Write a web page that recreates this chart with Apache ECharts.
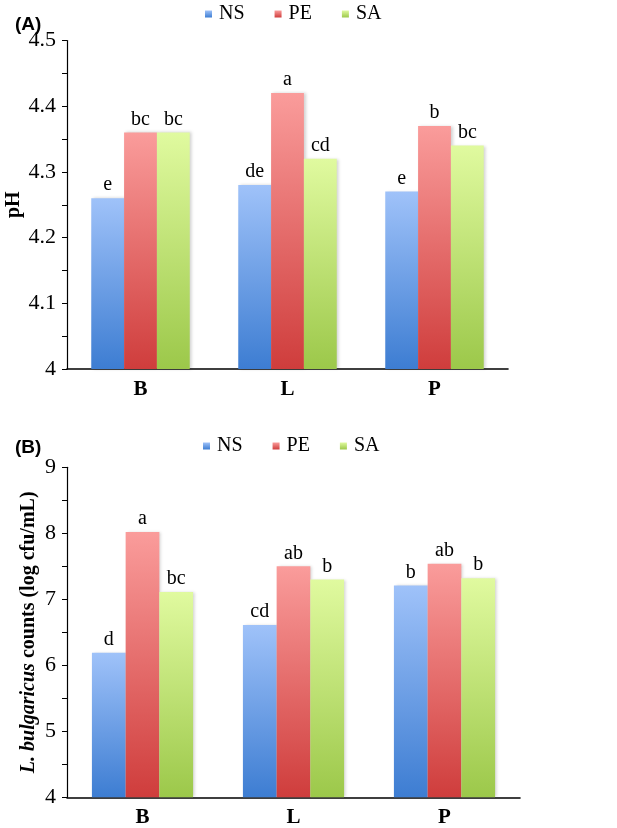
<!DOCTYPE html>
<html>
<head>
<meta charset="utf-8">
<script src="https://cdn.jsdelivr.net/npm/echarts@6/dist/echarts.min.js"></script>
<style>
html,body{margin:0;padding:0;background:#fff;}
#c{width:617px;height:828px;}
</style>
</head>
<body>
<div id="c"></div>
<script>
// Categories and series names
const categories = ['B', 'L', 'P'];
const seriesNames = ['NS', 'PE', 'SA'];

// Panel A: pH
const phNS = [4.26, 4.28, 4.27];
const phPE = [4.36, 4.42, 4.37];
const phSA = [4.36, 4.32, 4.34];
const phLetNS = ['e', 'de', 'e'];
const phLetPE = ['bc', 'a', 'b'];
const phLetSA = ['bc', 'cd', 'bc'];

// Panel B: L. bulgaricus counts (log cfu/mL)
const lbNS = [6.19, 6.61, 7.21];
const lbPE = [8.02, 7.50, 7.54];
const lbSA = [7.11, 7.30, 7.32];
const lbLetNS = ['d', 'cd', 'b'];
const lbLetPE = ['a', 'ab', 'ab'];
const lbLetSA = ['bc', 'b', 'b'];

const SERIF = '"Liberation Serif","Times New Roman",serif';

function grad(top, bottom) {
  return new echarts.graphic.LinearGradient(0, 0, 0, 1, [
    {offset: 0, color: top}, {offset: 1, color: bottom}
  ]);
}
const colors = {
  NS: ['#9fc2f9', '#3d7dd2'],
  PE: ['#fa9c9b', '#cf3d3c'],
  SA: ['#e0fa9f', '#9cc84a']
};

function mkSeries(name, data, letters, idx) {
  return {
    name: name,
    type: 'bar',
    xAxisIndex: idx, yAxisIndex: idx,
    data: data,
    barGap: '0%',
    barCategoryGap: '33%',
    itemStyle: {
      color: grad(colors[name][0], colors[name][1]),
      shadowColor: 'rgba(0,0,0,0.18)', shadowBlur: 3, shadowOffsetX: 2
    },
    label: {
      show: true, position: 'top', distance: 3,
      formatter: p => letters[p.dataIndex],
      fontFamily: SERIF, fontSize: 20, color: '#000'
    }
  };
}

function yAxisCfg(idx, min, max, interval, nameCfg) {
  return Object.assign({
    type: 'value', gridIndex: idx, min: min, max: max, interval: interval,
    splitLine: {show: false},
    nameMoveOverlap: false,
    axisLine: {show: true, lineStyle: {color: '#000', width: 1.2}},
    axisTick: {show: true, length: 5, lineStyle: {color: '#000'}},
    minorTick: {show: true, splitNumber: 2, length: 5, lineStyle: {color: '#000'}},
    minorSplitLine: {show: false},
    axisLabel: {fontFamily: SERIF, fontSize: 22, color: '#000', margin: 11, align: 'right'}
  }, nameCfg);
}

function xAxisCfg(idx) {
  return {
    type: 'category', gridIndex: idx, data: categories,
    axisLine: {lineStyle: {color: '#000', width: 1.6}},
    axisTick: {show: false},
    axisLabel: {fontFamily: SERIF, fontSize: 21, fontWeight: 'bold', color: '#000', margin: 10}
  };
}

const legendCfg = (left, top) => ({
  data: seriesNames, left: left, top: top,
  itemWidth: 7, itemHeight: 7, itemGap: 30, icon: 'rect',
  textStyle: {fontFamily: SERIF, fontSize: 20, color: '#000', padding: [0, 0, 0, 2]},
  selectedMode: false
});

const chart = echarts.init(document.getElementById('c'));
chart.setOption({
  animation: false,
  backgroundColor: '#fff',
  title: [
    {text: '(A)', left: 10, top: 10, textStyle: {fontFamily: '"Liberation Sans",Arial,sans-serif', fontSize: 19, fontWeight: 'bold', color: '#000'}},
    {text: '(B)', left: 10, top: 433, textStyle: {fontFamily: '"Liberation Sans",Arial,sans-serif', fontSize: 19, fontWeight: 'bold', color: '#000'}}
  ],
  legend: [legendCfg(200, -1), legendCfg(198, 431)],
  grid: [
    {left: 67, right: 109, top: 40.5, bottom: 459, outerBoundsMode: 'none'},
    {left: 67, right: 97, top: 467.3, bottom: 30.7, outerBoundsMode: 'none'}
  ],
  xAxis: [xAxisCfg(0), xAxisCfg(1)],
  yAxis: [
    yAxisCfg(0, 4, 4.5, 0.1, {
      name: 'pH', nameLocation: 'middle', nameRotate: 90, nameGap: 43,
      nameTextStyle: {fontFamily: SERIF, fontSize: 20, fontWeight: 'bold', color: '#000'}
    }),
    yAxisCfg(1, 4, 9, 1, {
      name: '{i|L. bulgaricus} counts (log cfu/mL)', nameLocation: 'middle', nameRotate: 90, nameGap: 28,
      nameTextStyle: {fontFamily: SERIF, fontSize: 20, fontWeight: 'bold', color: '#000',
        rich: {i: {fontFamily: SERIF, fontSize: 20, fontWeight: 'bold', fontStyle: 'italic', color: '#000'}}}
    })
  ],
  series: [
    mkSeries('NS', phNS, phLetNS, 0),
    mkSeries('PE', phPE, phLetPE, 0),
    mkSeries('SA', phSA, phLetSA, 0),
    mkSeries('NS', lbNS, lbLetNS, 1),
    mkSeries('PE', lbPE, lbLetPE, 1),
    mkSeries('SA', lbSA, lbLetSA, 1)
  ]
});
</script>
</body>
</html>
